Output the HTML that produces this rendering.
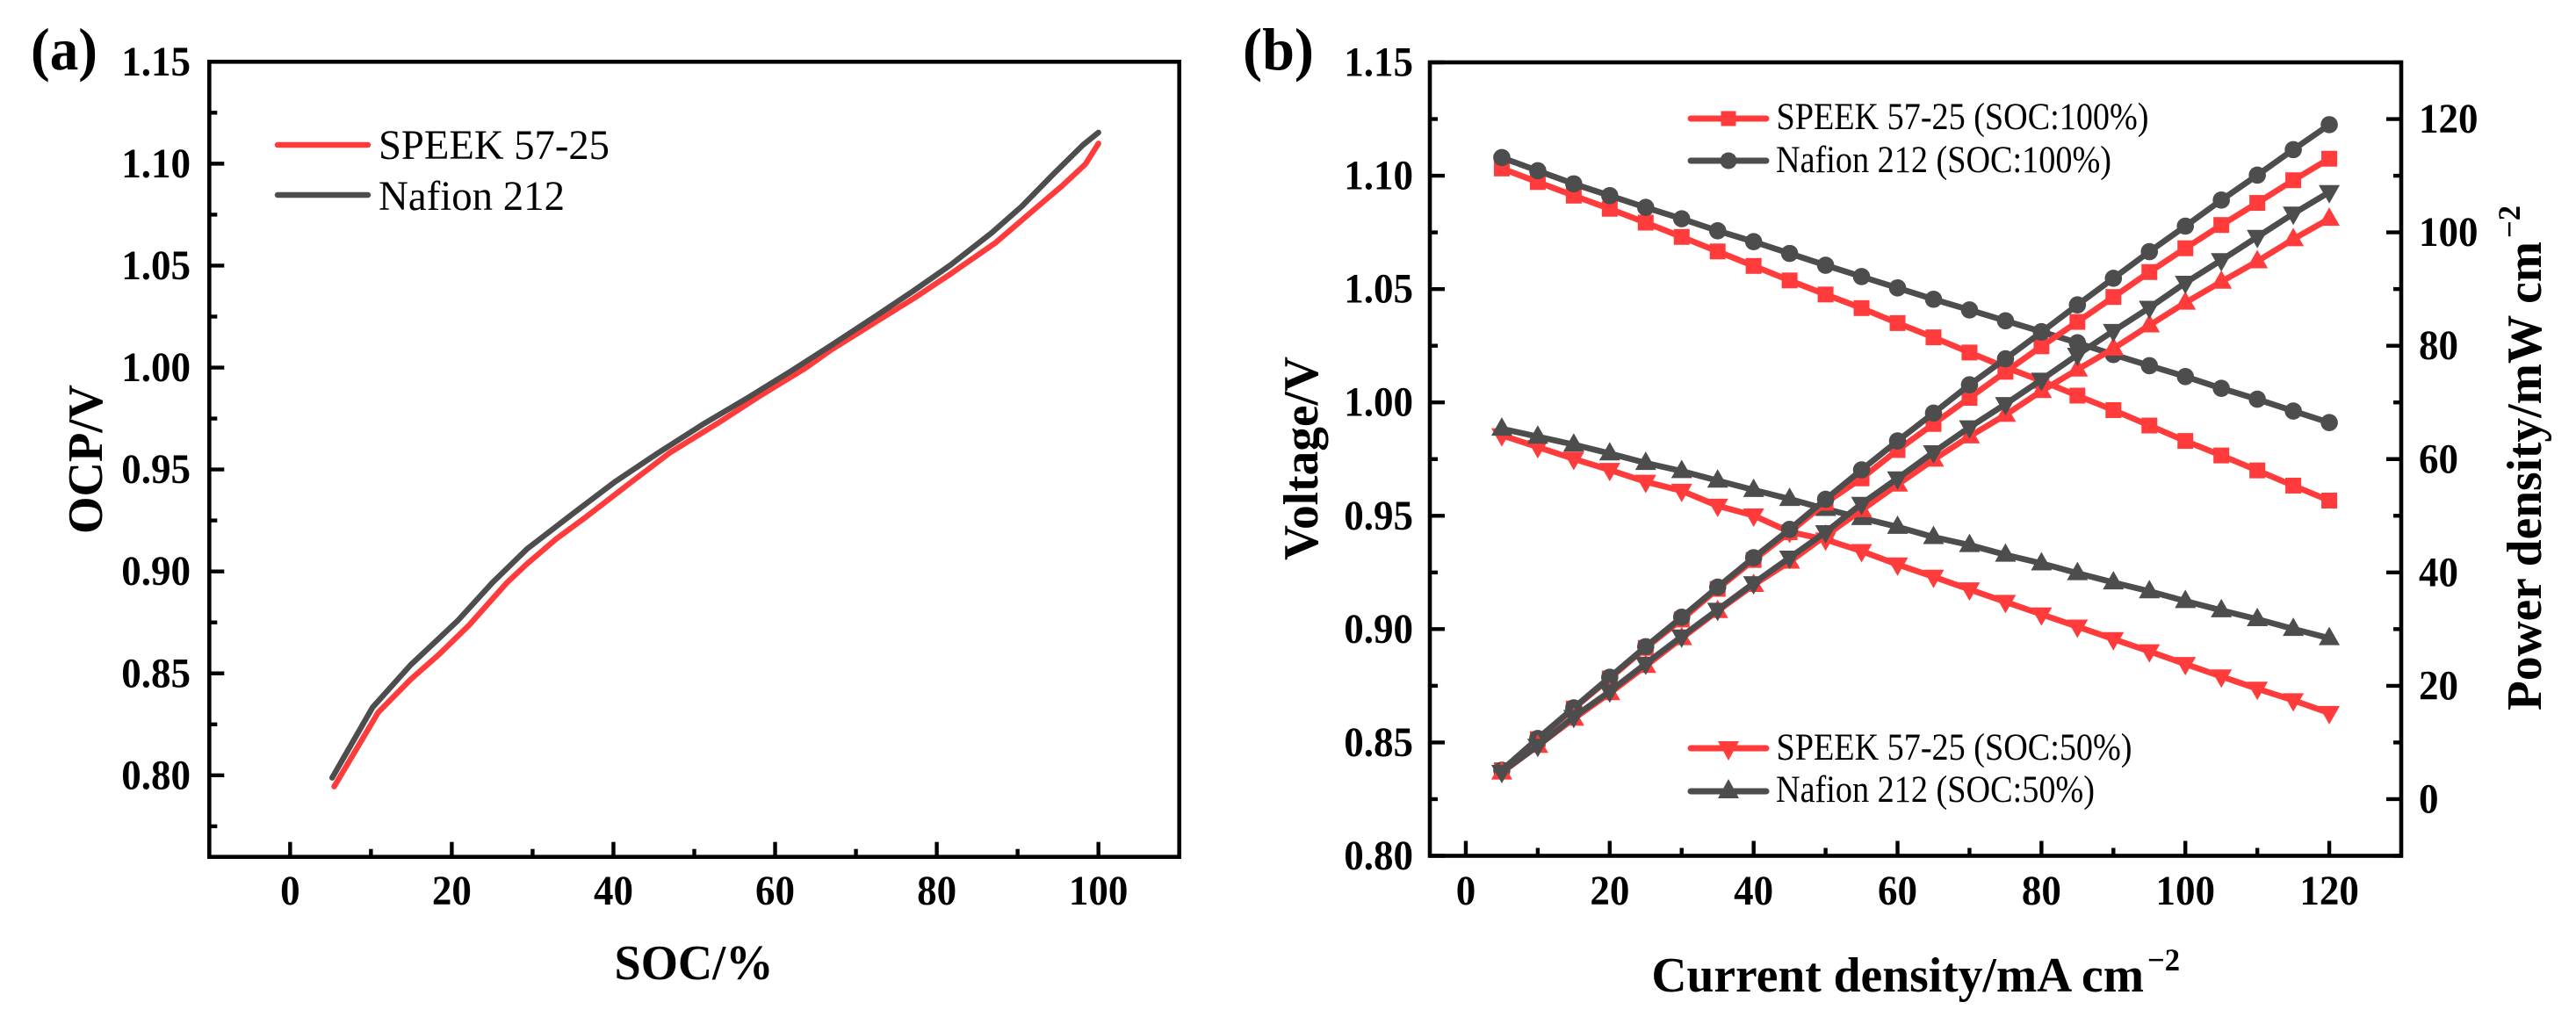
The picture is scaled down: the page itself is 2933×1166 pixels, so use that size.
<!DOCTYPE html>
<html lang="en">
<head>
<meta charset="utf-8">
<title>OCP and polarization curves</title>
<style>
html,body{margin:0;padding:0;background:#fff;width:2933px;height:1166px;overflow:hidden}
svg{display:block}
text{font-family:"Liberation Serif",serif;fill:#000}
.tick{font-weight:bold;font-size:47.5px}
.title{font-weight:bold;font-size:56px}
.sup{font-weight:bold;font-size:36px}
.leg-a{font-size:48px}
.leg-b{font-size:43px}
.panel{font-weight:bold;font-size:68px}
</style>
</head>
<body>
<svg id="fig" xmlns="http://www.w3.org/2000/svg" width="2933" height="1166" viewBox="0 0 2933 1166">
  <rect x="0" y="0" width="2933" height="1166" fill="#fff"/>
  <text class="panel" x="35" y="79" textLength="76" lengthAdjust="spacingAndGlyphs">(a)</text>
  <text class="panel" x="1415" y="79" textLength="81" lengthAdjust="spacingAndGlyphs">(b)</text>

  <g id="plotA"></g>
  <g id="plotB"></g>

  <rect x="238.3" y="70.3" width="1104.4" height="905.4" fill="none" stroke="#000" stroke-width="4.6"/>
  <rect x="1628" y="71" width="1106" height="903.5" fill="none" stroke="#000" stroke-width="4.6"/>

  <text class="title" x="790" y="1115" text-anchor="middle" textLength="181" lengthAdjust="spacingAndGlyphs">SOC/%</text>
  <text class="title" transform="translate(116 523) rotate(-90)" text-anchor="middle" textLength="170" lengthAdjust="spacingAndGlyphs">OCP/V</text>

  <text class="title" x="1880.4" y="1129" textLength="560.6" lengthAdjust="spacingAndGlyphs">Current density/mA cm</text>
  <text class="sup" x="2445" y="1105" textLength="37" lengthAdjust="spacingAndGlyphs">&#8722;2</text>

  <text class="title" transform="translate(1500 522) rotate(-90)" text-anchor="middle" textLength="232" lengthAdjust="spacingAndGlyphs">Voltage/V</text>

  <text class="title" transform="translate(2893 809) rotate(-90)" textLength="534" lengthAdjust="spacingAndGlyphs">Power density/mW cm</text>
  <text class="sup" transform="translate(2869 271) rotate(-90)" textLength="37" lengthAdjust="spacingAndGlyphs">&#8722;2</text>

  <g>
    <line x1="316" y1="165" x2="419" y2="165" stroke="#ff3b3b" stroke-width="6.5" stroke-linecap="round"/>
    <text class="leg-a" x="431" y="181" textLength="263" lengthAdjust="spacingAndGlyphs">SPEEK 57-25</text>
    <line x1="316" y1="222" x2="419" y2="222" stroke="#4d4d4d" stroke-width="6.5" stroke-linecap="round"/>
    <text class="leg-a" x="431" y="239" textLength="212" lengthAdjust="spacingAndGlyphs">Nafion 212</text>
  </g>

  <g>
    <line x1="1925" y1="135" x2="2011" y2="135" stroke="#ff3b3b" stroke-width="7" stroke-linecap="round"/>
    <rect x="1959.5" y="126.5" width="17" height="17" fill="#ff3b3b"/>
    <text class="leg-b" x="2022.5" y="147" textLength="424" lengthAdjust="spacingAndGlyphs">SPEEK 57-25 (SOC:100%)</text>

    <line x1="1925" y1="183" x2="2011" y2="183" stroke="#4d4d4d" stroke-width="7" stroke-linecap="round"/>
    <circle cx="1968" cy="183" r="9.5" fill="#4d4d4d"/>
    <text class="leg-b" x="2022" y="196" textLength="382" lengthAdjust="spacingAndGlyphs">Nafion 212 (SOC:100%)</text>

    <line x1="1925" y1="852" x2="2011" y2="852" stroke="#ff3b3b" stroke-width="7" stroke-linecap="round"/>
    <polygon points="1956,844 1980,844 1968,866" fill="#ff3b3b"/>
    <text class="leg-b" x="2022.5" y="865" textLength="405" lengthAdjust="spacingAndGlyphs">SPEEK 57-25 (SOC:50%)</text>

    <line x1="1925" y1="901" x2="2011" y2="901" stroke="#4d4d4d" stroke-width="7" stroke-linecap="round"/>
    <polygon points="1956,909 1980,909 1968,887" fill="#4d4d4d"/>
    <text class="leg-b" x="2022" y="913" textLength="363" lengthAdjust="spacingAndGlyphs">Nafion 212 (SOC:50%)</text>
  </g>
</svg>

<script>
// ---------- Panel (a) data ----------
const socSpeek = [5.45,10.9,14.9,18.5,22.1,26.8,29.3,32.9,36.6,42,47,52.9,58.2,63.7,66.9,72.7,77.1,81.7,87.2,92.5,95.5,98.4,100];
const ocpSpeek = [0.7945,0.8309,0.847,0.8596,0.8735,0.8944,0.9037,0.9159,0.9267,0.9432,0.9583,0.9727,0.9863,0.9996,1.0086,1.023,1.0338,1.0459,1.061,1.079,1.0891,1.0998,1.1099];
const socNafion = [5.2,10.2,14.9,20.7,25,29.3,34.9,40.2,45.6,51,56.5,61.9,66.9,72.7,77,81.7,86.8,90.5,94.4,98.1,100];
const ocpNafion = [0.7988,0.8333,0.8541,0.8757,0.8944,0.911,0.9281,0.944,0.9583,0.972,0.9849,0.9981,1.0108,1.0259,1.0373,1.0503,1.0661,1.079,1.0948,1.1092,1.1153];
const aXTicks = ['0','20','40','60','80','100'];
const aXMinor = [10,30,50,70,90];
const aYTicks = ['0.80','0.85','0.90','0.95','1.00','1.05','1.10','1.15'];
const aYMinor = [0.775,0.825,0.875,0.925,0.975,1.025,1.075,1.125];

// ---------- Panel (b) data ----------
const currentDensity = [5,10,15,20,25,30,35,40,45,50,55,60,65,70,75,80,85,90,95,100,105,110,115,120];
const voltageSpeek100 = [1.1032,1.0972,1.0912,1.0854,1.0793,1.073,1.0666,1.0602,1.0538,1.0476,1.0416,1.035,1.0287,1.022,1.0155,1.0095,1.003,0.9966,0.9898,0.983,0.9766,0.97,0.9633,0.9567];
const voltageNafion100 = [1.108,1.1022,1.0964,1.0912,1.086,1.081,1.0757,1.0709,1.0657,1.0605,1.0555,1.0505,1.0455,1.0408,1.036,1.0312,1.0263,1.0211,1.0162,1.0114,1.0062,1.0014,0.9962,0.9911];
const voltageSpeek50 = [0.9855,0.9803,0.9751,0.9702,0.965,0.961,0.9544,0.9501,0.9429,0.9395,0.9344,0.9285,0.9231,0.9175,0.912,0.9065,0.9011,0.8956,0.8902,0.8846,0.8791,0.8737,0.8686,0.863];
const voltageNafion50 = [0.9884,0.9849,0.9814,0.9775,0.9733,0.9697,0.9655,0.9614,0.9574,0.953,0.949,0.9451,0.9406,0.9371,0.9328,0.929,0.9247,0.9206,0.9167,0.9124,0.9083,0.9044,0.9001,0.896];
const powerSpeek100 = [5.1,10.6,16,21.3,26.7,31.7,37.1,42.2,47.1,52.3,56.6,61.6,66.2,70.8,75.4,79.9,84.2,88.6,93,97.2,101.3,105.2,109.2,113];
const powerNafion100 = [5.1,10.7,16.1,21.5,26.9,32.1,37.4,42.6,47.6,52.9,58.1,63.2,68.1,73.1,77.7,82.4,87.2,91.9,96.6,101.1,105.7,110.1,114.6,119];
const powerSpeek50 = [4.7,9.4,14.2,18.7,23.5,28.4,33.2,37.8,41.9,46.5,51,55.5,59.9,64,67.8,72,75.8,79.5,83.6,87.6,91.3,94.9,98.8,102.4];
const powerNafion50 = [4.8,9.4,14.5,19,23.9,28.7,33.4,38.1,42.6,47.1,52.1,56.6,61.2,65.6,69.7,74,78.4,82.6,86.7,91.1,95.1,99.2,103.3,107.1];
const bXTicks = ['0','20','40','60','80','100','120'];
const bXMinor = [10,30,50,70,90,110];
const bYTicks = ['0.80','0.85','0.90','0.95','1.00','1.05','1.10','1.15'];
const bYMinor = [0.825,0.875,0.925,0.975,1.025,1.075,1.125];
const bPowerTicks = ['0','20','40','60','80','100','120'];
const bPowerMinor = [-10,10,30,50,70,90,110,130];

const RED = '#ff3b3b';
const DARK = '#4d4d4d';
const NS = 'http://www.w3.org/2000/svg';

// ---------- Axis functions ----------
function linear(d0, d1, r0, r1) {
  return function (v) { return r0 + (v - d0) * (r1 - r0) / (d1 - d0); };
}
const aX = linear(-10, 110, 238.3, 1342.7);
const aY = linear(0.76, 1.15, 975.7, 70.3);
const bX = linear(-5, 130, 1628, 2734);
const bY = linear(0.80, 1.15, 974.5, 71);
const bP = linear(-10, 130, 974.5, 71);

function svgEl(tag, parent) {
  const el = document.createElementNS(NS, tag);
  parent.appendChild(el);
  return el;
}

function tick(parent, x1, y1, x2, y2, width, name) {
  const t = svgEl('line', parent);
  t.setAttribute('x1', x1);
  t.setAttribute('y1', y1);
  t.setAttribute('x2', x2);
  t.setAttribute('y2', y2);
  t.setAttribute('stroke', '#000');
  t.setAttribute('stroke-width', width);
  
  
}

function label(parent, x, y, anchor, str, name) {
  const t = svgEl('text', parent);
  t.setAttribute('class', 'tick');
  t.setAttribute('x', x);
  t.setAttribute('y', y);
  t.setAttribute('text-anchor', anchor);
  // glyphs are slightly condensed in the reference: 45px advance on 47.5px glyphs
  let em = 0;
  for (const c of str) { em += (c === '.') ? 0.25 : 0.5; }
  t.setAttribute('textLength', (em * 45).toFixed(1));
  t.setAttribute('lengthAdjust', 'spacingAndGlyphs');
  t.textContent = str;
  
  
}

function xAxis(parent, scale, bottom, labels, minors, labelY) {
  labels.forEach(function (s) {
    const x = scale(parseFloat(s));
    tick(parent, x, bottom, x, bottom - 17, 4.4, 'x-major-tick');
    label(parent, x, labelY, 'middle', s, 'x-tick-label');
  });
  minors.forEach(function (v) {
    const x = scale(v);
    tick(parent, x, bottom, x, bottom - 9, 4.4, 'x-minor-tick');
  });
}

function yAxis(parent, scale, edge, dir, labels, minors, labelX, anchor) {
  labels.forEach(function (s) {
    const y = scale(parseFloat(s));
    tick(parent, edge, y, edge + dir * 17, y, 4.4, 'y-major-tick');
    label(parent, labelX, y + 15.5, anchor, s, 'y-tick-label');
  });
  minors.forEach(function (v) {
    const y = scale(v);
    tick(parent, edge, y, edge + dir * 9, y, 4.4, 'y-minor-tick');
  });
}

function drawLine(parent, xs, ys, sx, sy, color, width, name) {
  const pts = xs.map(function (x, i) { return sx(x).toFixed(2) + ',' + sy(ys[i]).toFixed(2); }).join(' ');
  const line = svgEl('polyline', parent);
  line.setAttribute('points', pts);
  line.setAttribute('fill', 'none');
  line.setAttribute('stroke', color);
  line.setAttribute('stroke-width', width);
  line.setAttribute('stroke-linejoin', 'round');
  line.setAttribute('stroke-linecap', 'round');
  
  
}

function drawMarker(parent, px, py, shape, color, name) {
  let m;
  if (shape === 'square') {
    m = svgEl('rect', parent);
    m.setAttribute('x', px - 9);
    m.setAttribute('y', py - 9);
    m.setAttribute('width', 18);
    m.setAttribute('height', 18);
  } else if (shape === 'circle') {
    m = svgEl('circle', parent);
    m.setAttribute('cx', px);
    m.setAttribute('cy', py);
    m.setAttribute('r', 9.8);
  } else if (shape === 'up') {
    m = svgEl('polygon', parent);
    m.setAttribute('points', (px - 12) + ',' + (py + 8) + ' ' + (px + 12) + ',' + (py + 8) + ' ' + px + ',' + (py - 13));
  } else {
    m = svgEl('polygon', parent);
    m.setAttribute('points', (px - 12) + ',' + (py - 8) + ' ' + (px + 12) + ',' + (py - 8) + ' ' + px + ',' + (py + 13));
  }
  m.setAttribute('fill', color);
  
  
}

function drawSeries(parent, xs, ys, sx, sy, shape, color, name) {
  const g = svgEl('g', parent);
  
  
  drawLine(g, xs, ys, sx, sy, color, 6.8, name);
  xs.forEach(function (x, i) {
    drawMarker(g, sx(x), sy(ys[i]), shape, color, name);
  });
}

// ---------- Panel (a) ----------
const plotA = document.getElementById('plotA');
xAxis(plotA, aX, 975.7, aXTicks, aXMinor, 1030);
yAxis(plotA, aY, 238.3, 1, aYTicks, aYMinor, 217, 'end');
drawLine(plotA, socSpeek, ocpSpeek, aX, aY, RED, 6.4, 'ocp-speek');
drawLine(plotA, socNafion, ocpNafion, aX, aY, DARK, 6.4, 'ocp-nafion');

// ---------- Panel (b) ----------
const plotB = document.getElementById('plotB');
xAxis(plotB, bX, 974.5, bXTicks, bXMinor, 1030);
yAxis(plotB, bY, 1628, 1, bYTicks, bYMinor, 1609, 'end');
yAxis(plotB, bP, 2734, -1, bPowerTicks, bPowerMinor, 2754, 'start');

drawSeries(plotB, currentDensity, voltageSpeek100, bX, bY, 'square', RED, 'voltage-speek-100');
drawSeries(plotB, currentDensity, voltageNafion100, bX, bY, 'circle', DARK, 'voltage-nafion-100');
drawSeries(plotB, currentDensity, voltageSpeek50, bX, bY, 'down', RED, 'voltage-speek-50');
drawSeries(plotB, currentDensity, voltageNafion50, bX, bY, 'up', DARK, 'voltage-nafion-50');
drawSeries(plotB, currentDensity, powerSpeek100, bX, bP, 'square', RED, 'power-speek-100');
drawSeries(plotB, currentDensity, powerNafion100, bX, bP, 'circle', DARK, 'power-nafion-100');
drawSeries(plotB, currentDensity, powerSpeek50, bX, bP, 'up', RED, 'power-speek-50');
drawSeries(plotB, currentDensity, powerNafion50, bX, bP, 'down', DARK, 'power-nafion-50');
</script>
</body>
</html>
